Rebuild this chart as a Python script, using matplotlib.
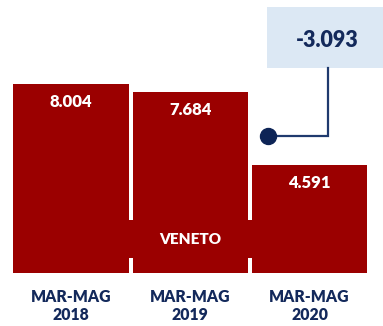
import matplotlib
matplotlib.use("Agg")
import matplotlib.pyplot as plt
from matplotlib.patches import Rectangle

# Data
categories = ["MAR-MAG\n2018", "MAR-MAG\n2019", "MAR-MAG\n2020"]
values = [8004, 7684, 4591]
value_labels = ["8.004", "7.684", "4.591"]
region = "VENETO"
delta_label = "-3.093"

BAR = "#9b0000"
NAVY = "#13295b"
BOX = "#dce8f4"
FONT = ["Lato", "DejaVu Sans"]
WEIGHT = "heavy"

fig = plt.figure(figsize=(3.83, 3.26), dpi=100)
ax = fig.add_axes([0, 0, 1, 1])
ax.set_xlim(-0.595, 2.616)
ax.set_ylim(-2245, 11563)
ax.axis("off")

x = list(range(len(values)))
width = 0.965

# Region band joining the bars
ax.add_patch(Rectangle((x[0] - width / 2, 623), x[-1] - x[0] + width, 1622,
                       facecolor=BAR, edgecolor="none", zorder=1))
ax.bar(x, values, width=width, color=BAR, edgecolor="none", zorder=2)
ax.text(x[1], 1430, region, ha="center", va="center", color="white",
        fontsize=11, fontweight=WEIGHT, family=FONT, zorder=3)

for xi, v, lab in zip(x, values, value_labels):
    ax.text(xi, v - 760, lab, ha="center", va="center", color="white",
            fontsize=12, fontweight=WEIGHT, family=FONT, zorder=3)

for xi, lab in zip(x, categories):
    ax.text(xi, -1400, lab, ha="center", va="center", color=NAVY,
            fontsize=11.3, fontweight=WEIGHT, family=FONT, linespacing=1.12)

# Change callout
ax.add_patch(Rectangle((1.645, 8683), 1.2, 2583, facecolor=BOX,
                       edgecolor="none", zorder=1))
ax.text(2.15, 9860, delta_label, ha="center", va="center", color=NAVY,
        fontsize=15.5, fontweight=WEIGHT, family=FONT, zorder=3)
ax.plot([2.152, 2.152, 1.651], [8683, 5803, 5803], color="#1f3a6e",
        lw=1.6, zorder=3, solid_joinstyle="miter")
ax.plot([1.651], [5803], "o", color="#0d2456", markersize=11.5, zorder=4)

fig.savefig("out.png", dpi=100)
